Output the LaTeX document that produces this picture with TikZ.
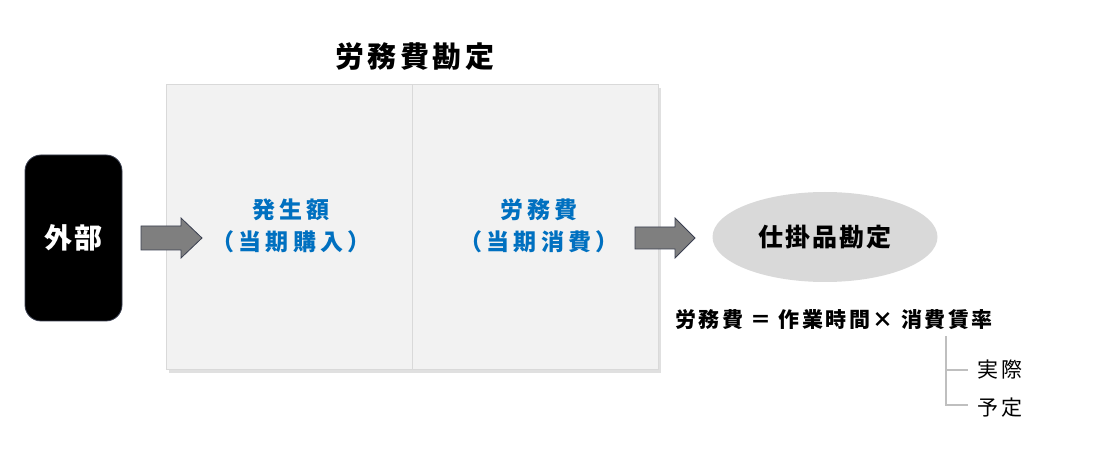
\documentclass[tikz,border=0pt]{standalone}
\usepackage{fontspec}
\newfontfamily\jp{Noto Sans CJK JP}
\newcommand{\ls}[1]{\addfontfeature{LetterSpace=#1}}
\usetikzlibrary{shapes.geometric}
\definecolor{boxfill}{HTML}{F2F2F2}
\definecolor{boxline}{HTML}{D9D9D9}
\definecolor{txtblue}{HTML}{0070C0}
\definecolor{arrfill}{HTML}{7F7F7F}
\definecolor{arrline}{HTML}{3A3F50}
\definecolor{ellfill}{HTML}{D9D9D9}
\definecolor{treeline}{HTML}{BFBFBF}
\tikzset{
  blockarrow/.style={fill=arrfill,draw=arrline,line width=0.8pt},
  bluetxt/.style={font=\jp\bfseries\fontsize{23}{32}\selectfont\ls{18},text=txtblue,align=center},
  leaftxt/.style={font=\jp\fontsize{21}{22}\selectfont\ls{15},anchor=west,inner sep=0pt},
}
\begin{document}
\begin{tikzpicture}[x=1pt,y=-1pt]
\useasboundingbox (0,0) rectangle (1120,470);
% shadow + box
\fill[black!12] (169,88) rectangle (661,373);
\draw[fill=boxfill,draw=boxline,line width=1pt] (166,85) rectangle (658,370);
\draw[boxline,line width=1pt] (412,85) -- (412,370);
\node[font=\jp\bfseries\fontsize{29}{30}\selectfont\ls{12}] (title) at (415,57) {労務費勘定};
% outside block
\node[draw=arrline,fill=black,rounded corners=16pt,minimum width=97pt,minimum height=166pt,line width=0.8pt,
      text=white,font=\jp\bfseries\fontsize{28}{28}\selectfont\ls{10}] (ext) at (73.5,238) {外部};
% texts in box
\node[bluetxt] (gen) at (291,226) {発生額\\（当期購入）};
\node[bluetxt] (cons) at (539,226) {労務費\\（当期消費）};
% arrows
\draw[blockarrow] (141,226) -- (181,226) -- (181,218) -- (202,238) -- (181,258) -- (181,250) -- (141,250) -- cycle;
\draw[blockarrow] (635,227) -- (675,227) -- (675,218) -- (695,238) -- (675,258) -- (675,249) -- (635,249) -- cycle;
% ellipse
\node[ellipse,fill=ellfill,minimum width=225pt,minimum height=90pt,
      font=\jp\bfseries\fontsize{25}{26}\selectfont\ls{8}] (wip) at (825,237) {仕掛品勘定};
% formula
\node[font=\jp\bfseries\fontsize{21}{22}\selectfont\ls{12},anchor=west,inner sep=0pt] (form) at (675,320) {労務費 ＝ 作業時間× 消費賃率};
\coordinate (t0) at (946,336);
\coordinate (t1) at (946,370);
\coordinate (t2) at (946,405);
\node[leaftxt] (act) at (977,370) {実際};
\node[leaftxt] (plan) at (977,408) {予定};
\draw[treeline,line width=2.5pt] (t0) -- (t2) -- ([xshift=22pt]t2);
\draw[treeline,line width=2.5pt] (t1) -- ([xshift=22pt]t1);
\end{tikzpicture}
\end{document}
